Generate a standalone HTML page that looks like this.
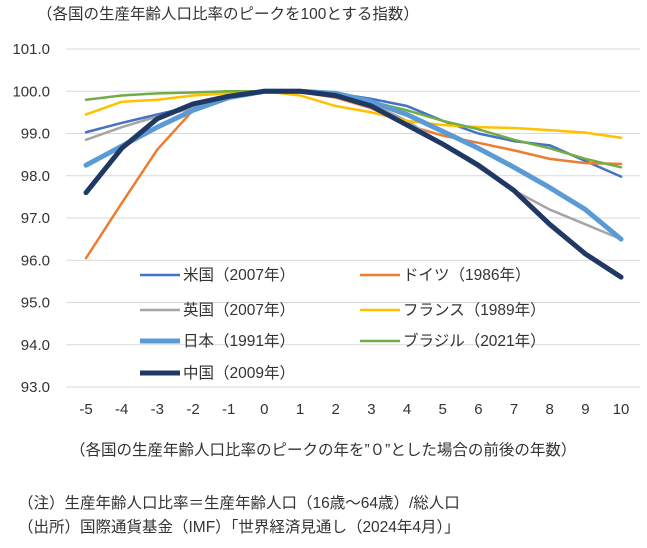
<!DOCTYPE html><html><head><meta charset="utf-8"><style>
body{margin:0;background:#fff;width:647px;height:543px;overflow:hidden}
text{font-family:"Liberation Sans","Noto Sans CJK JP",sans-serif;fill:#333}
</style></head><body>
<svg width="647" height="543" xmlns="http://www.w3.org/2000/svg">
<g id="g"></g>
<text x="37" y="19" font-size="15.5">（各国の生産年齢人口比率のピークを100とする指数）</text>
<text x="70" y="455" font-size="15.5">（各国の生産年齢人口比率のピークの年を”０”とした場合の前後の年数）</text>
<text x="18" y="508" font-size="15.5">（注）生産年齢人口比率＝生産年齢人口（16歳～64歳）/総人口</text>
<text x="18" y="532" font-size="15.5">（出所）国際通貨基金（IMF）「世界経済見通し（2024年4月）」</text>
</svg>
<script>
const svg=document.querySelector('svg'),g=document.getElementById('g');
const NS='http://www.w3.org/2000/svg';
function el(t,a,p){const e=document.createElementNS(NS,t);for(const k in a)e.setAttribute(k,a[k]);(p||g).appendChild(e);return e}
const Y=v=>387-(v-93)*42.25, X=i=>86+i*35.67;
for(let v=93;v<=101;v++){el('line',{x1:66,x2:640,y1:Y(v),y2:Y(v),stroke:'#d9d9d9','stroke-width':1});
const t=el('text',{x:50,y:Y(v)+5,'text-anchor':'end','font-size':'15'});t.textContent=v.toFixed(1);}
for(let i=0;i<16;i++){const t=el('text',{x:X(i),y:414,'text-anchor':'middle','font-size':'15'});t.textContent=i-5;}
const S=[
['#4472c4',2.5,[99.03,99.25,99.45,99.65,99.85,100,100,99.95,99.82,99.65,99.3,99.0,98.82,98.72,98.35,97.98],'米国（2007年）',0,275],
['#ed7d31',2.5,[96.05,97.35,98.62,99.55,99.9,100,99.98,99.85,99.6,99.2,98.95,98.78,98.6,98.4,98.3,98.28],'ドイツ（1986年）',1,275],
['#a5a5a5',2.5,[98.85,99.15,99.4,99.6,99.85,100,100,99.9,99.7,99.3,98.75,98.2,97.65,97.2,96.85,96.5],'英国（2007年）',0,310],
['#ffc000',2.5,[99.45,99.75,99.8,99.9,99.95,100,99.9,99.65,99.5,99.3,99.2,99.15,99.13,99.08,99.02,98.9],'フランス（1989年）',1,310],
['#70ad47',2.5,[99.8,99.9,99.95,99.97,100,100,100,99.95,99.75,99.55,99.3,99.1,98.85,98.65,98.4,98.2],'ブラジル（2021年）',1,341],
['#5b9bd5',5,[98.25,98.7,99.15,99.55,99.85,100,100,99.95,99.75,99.45,99.05,98.65,98.2,97.72,97.2,96.5],'日本（1991年）',0,341],
['#203864',5,[97.6,98.65,99.35,99.7,99.88,100,100,99.9,99.65,99.2,98.75,98.25,97.65,96.85,96.15,95.6],'中国（2009年）',0,373]];
for(const [c,w,d,n,col,ly] of S){
el('polyline',{points:d.map((v,i)=>X(i)+','+Y(v)).join(' '),fill:'none',stroke:c,'stroke-width':w,'stroke-linejoin':'round','stroke-linecap':'round'});
const lx=col?360:140;
el('line',{x1:lx,x2:lx+40,y1:ly,y2:ly,stroke:c,'stroke-width':w});
const t=el('text',{x:lx+43,y:ly+5,'font-size':'15.5'});t.textContent=n;}
</script>
</body></html>
